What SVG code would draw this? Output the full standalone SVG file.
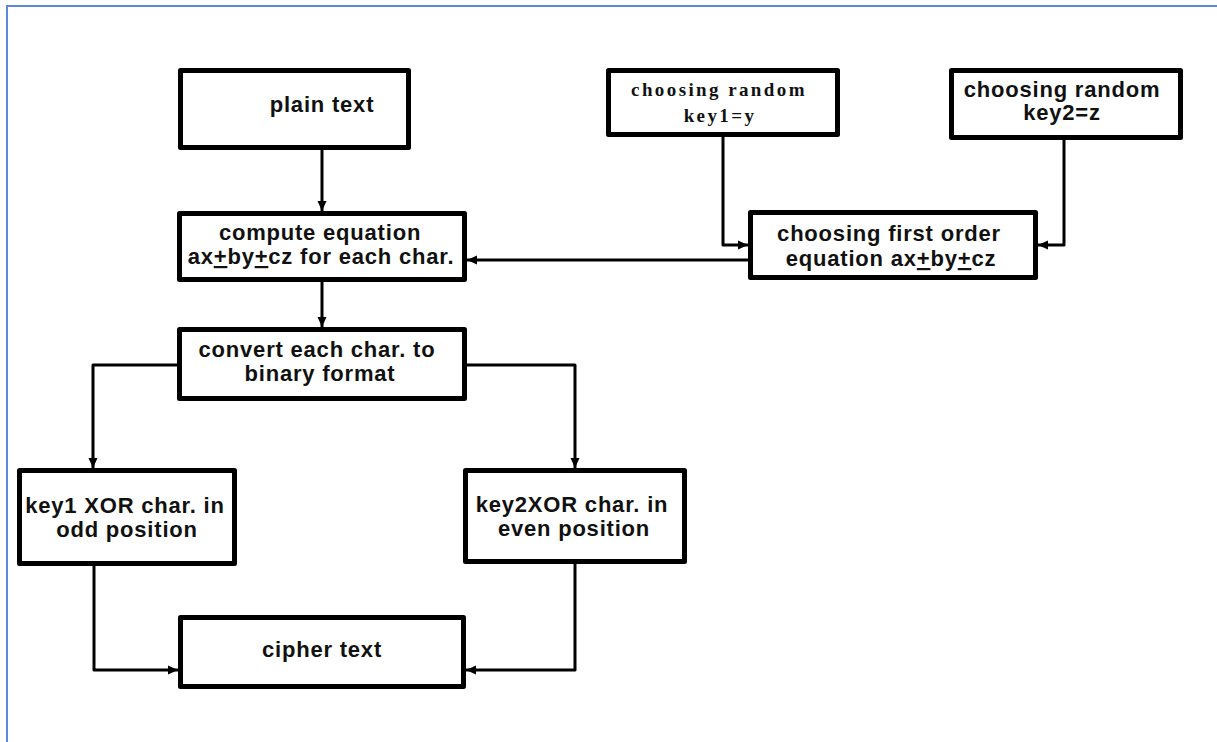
<svg xmlns="http://www.w3.org/2000/svg" width="1217" height="742" viewBox="0 0 1217 742">
<style>
.box{fill:#fff;stroke:#000;stroke-width:5;stroke-linejoin:round}
.t{font-family:"Liberation Sans",Arial,sans-serif;font-weight:bold;font-size:22px;letter-spacing:0.8px;fill:#111;text-anchor:middle}
.s{font-family:"Liberation Serif","Times New Roman",serif;font-weight:bold;font-size:19px;letter-spacing:2.4px;fill:#111;text-anchor:middle}
.c{fill:none;stroke:#000;stroke-width:3;stroke-linejoin:round}
.u{text-decoration:underline}
</style>
<defs>
<marker id="ah" markerUnits="userSpaceOnUse" markerWidth="10" markerHeight="10" viewBox="0 0 10 10" refX="10" refY="5" orient="auto">
<path d="M0,0.5 L10,5 L0,9.5 Z" fill="#000"/>
</marker>
</defs>
<rect width="1217" height="742" fill="#fff"/>
<path d="M7,742 V6 H1217" fill="none" stroke="#5A8AD8" stroke-width="2"/>
<g id="connectors">
<polyline class="c" points="322,150 322,211" marker-end="url(#ah)"/>
<polyline class="c" points="322,282 322,327" marker-end="url(#ah)"/>
<polyline class="c" points="723,137 723,245 748,245" marker-end="url(#ah)"/>
<polyline class="c" points="1064,140 1064,245 1038,245" marker-end="url(#ah)"/>
<polyline class="c" points="748,260 467,260" marker-end="url(#ah)"/>
<polyline class="c" points="177,365 93,365 93,468" marker-end="url(#ah)"/>
<polyline class="c" points="467,365 575,365 575,468" marker-end="url(#ah)"/>
<polyline class="c" points="94,566 94,670 178,670" marker-end="url(#ah)"/>
<polyline class="c" points="575,564 575,670 466,670" marker-end="url(#ah)"/>
</g>
<g id="plain">
<rect class="box" x="180.5" y="70.5" width="228" height="77"/>
<text class="t" x="322" y="112">plain text</text>
</g>
<g id="key1random">
<rect class="box" x="608.5" y="70.5" width="229" height="64"/>
<text class="s" x="719" y="96">choosing random</text>
<text class="s" x="720" y="122">key1=y</text>
</g>
<g id="key2random">
<rect class="box" x="951.5" y="70.5" width="229" height="67"/>
<text class="t" x="1062" y="97">choosing random</text>
<text class="t" x="1062" y="120">key2=z</text>
</g>
<g id="compute">
<rect class="box" x="179.5" y="213.5" width="285" height="66"/>
<text class="t" x="320" y="240">compute equation</text>
<text class="t" x="321" y="264">ax<tspan class="u">+</tspan>by<tspan class="u">+</tspan>cz for each char.</text>
</g>
<g id="firstorder">
<rect class="box" x="750.5" y="212.5" width="285" height="65"/>
<text class="t" x="889" y="241">choosing first order</text>
<text class="t" x="891" y="266">equation ax<tspan class="u">+</tspan>by<tspan class="u">+</tspan>cz</text>
</g>
<g id="convert">
<rect class="box" x="179.5" y="329.5" width="285" height="69"/>
<text class="t" x="317" y="357">convert each char. to</text>
<text class="t" x="320" y="381">binary format</text>
</g>
<g id="key1xor">
<rect class="box" x="19.5" y="470.5" width="215" height="93"/>
<text class="t" x="125" y="513">key1 XOR char. in</text>
<text class="t" x="127" y="537">odd position</text>
</g>
<g id="key2xor">
<rect class="box" x="465.5" y="470.5" width="219" height="91"/>
<text class="t" x="572" y="512">key2XOR char. in</text>
<text class="t" x="574" y="536">even position</text>
</g>
<g id="cipher">
<rect class="box" x="180.5" y="617.5" width="283" height="69"/>
<text class="t" x="322" y="657">cipher text</text>
</g>
</svg>
